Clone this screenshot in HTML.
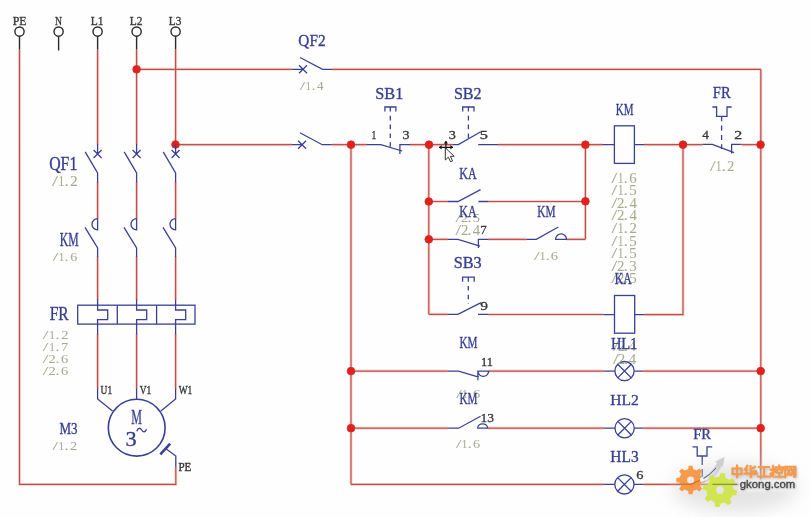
<!DOCTYPE html>
<html><head><meta charset="utf-8"><style>
html,body{margin:0;padding:0;background:#fff;}
svg{display:block;will-change:transform;filter:blur(0.3px);}
</style></head><body>
<svg width="811" height="517" viewBox="0 0 811 517">
<rect width="811" height="517" fill="#fefefe"/>
<path d="M19.5,49.5 V484.4 H175.8 V467 M97.6,49.5 L97.6,144.5 M97.6,182 L97.6,219 M97.6,256.5 L97.6,300 M97.6,334 L97.6,389 M136.6,49.5 L136.6,144.5 M136.6,182 L136.6,219 M136.6,256.5 L136.6,300 M136.6,334 L136.6,389 M175.6,49.5 L175.6,144.5 M175.6,182 L175.6,219 M175.6,256.5 L175.6,300 M175.6,334 L175.6,389 M136.6,69.3 L291.5,69.3 M332,69.3 L760.9,69.3 M175.6,144.7 L292,144.7 M331.8,144.7 L367,144.7 M351,144.7 L351,484.4 M410,144.7 L452.4,144.7 M498,144.7 L603,144.7 M644,144.7 L702.6,144.7 M741.3,144.7 L760.7,144.7 M760.8,69.3 L760.8,484.4 M428.8,144.7 L428.8,314.3 M428.8,201.5 L447.9,201.5 M488,201.5 L585.4,201.5 M585.4,144.7 L585.4,239.3 M428.8,239.3 L447.9,239.3 M488,239.3 L526.9,239.3 M566.5,239.3 L585.4,239.3 M428.8,314.3 L447.9,314.3 M488.1,314.5 L603.8,314.5 M644.3,314.6 H683 V144.7 M351,371.1 L447.7,371.1 M488.7,371.1 L603.8,371.1 M643.5,371.1 L760.7,371.1 M351,428.2 L448.1,428.2 M487.6,428.2 L603.8,428.2 M643.5,428.2 L760.7,428.2 M351,484.4 L603.8,484.4 M643.5,484.4 L760.8,484.4" fill="none" stroke="#f8d3cc" stroke-width="3.0"/>
<path d="M19.5,49.5 V484.4 H175.8 V467 M97.6,49.5 L97.6,144.5 M97.6,182 L97.6,219 M97.6,256.5 L97.6,300 M97.6,334 L97.6,389 M136.6,49.5 L136.6,144.5 M136.6,182 L136.6,219 M136.6,256.5 L136.6,300 M136.6,334 L136.6,389 M175.6,49.5 L175.6,144.5 M175.6,182 L175.6,219 M175.6,256.5 L175.6,300 M175.6,334 L175.6,389 M136.6,69.3 L291.5,69.3 M332,69.3 L760.9,69.3 M175.6,144.7 L292,144.7 M331.8,144.7 L367,144.7 M351,144.7 L351,484.4 M410,144.7 L452.4,144.7 M498,144.7 L603,144.7 M644,144.7 L702.6,144.7 M741.3,144.7 L760.7,144.7 M760.8,69.3 L760.8,484.4 M428.8,144.7 L428.8,314.3 M428.8,201.5 L447.9,201.5 M488,201.5 L585.4,201.5 M585.4,144.7 L585.4,239.3 M428.8,239.3 L447.9,239.3 M488,239.3 L526.9,239.3 M566.5,239.3 L585.4,239.3 M428.8,314.3 L447.9,314.3 M488.1,314.5 L603.8,314.5 M644.3,314.6 H683 V144.7 M351,371.1 L447.7,371.1 M488.7,371.1 L603.8,371.1 M643.5,371.1 L760.7,371.1 M351,428.2 L448.1,428.2 M487.6,428.2 L603.8,428.2 M643.5,428.2 L760.7,428.2 M351,484.4 L603.8,484.4 M643.5,484.4 L760.8,484.4" fill="none" stroke="#bb5050" stroke-width="1.2"/>
<circle cx="19.5" cy="31.6" r="4.6" fill="none" stroke="#2a2a2a" stroke-width="1.4"/>
<line x1="19.5" y1="36.2" x2="19.5" y2="49.5" stroke="#2a2a2a" stroke-width="1.4" />
<text class="t" x="12.66" y="24.5" font-family="Liberation Serif" font-size="12.68" font-weight="normal" fill="#3a3a3a" textLength="13.94" lengthAdjust="spacingAndGlyphs" stroke="#3a3a3a" stroke-width="0.35">PE</text>
<circle cx="58.6" cy="31.6" r="4.6" fill="none" stroke="#2a2a2a" stroke-width="1.4"/>
<line x1="58.6" y1="36.2" x2="58.6" y2="50.5" stroke="#2a2a2a" stroke-width="1.4" />
<text class="t" x="54.92" y="24.5" font-family="Liberation Serif" font-size="12.68" font-weight="normal" fill="#3a3a3a" textLength="7.00" lengthAdjust="spacingAndGlyphs" stroke="#3a3a3a" stroke-width="0.35">N</text>
<circle cx="97.6" cy="31.6" r="4.6" fill="none" stroke="#2a2a2a" stroke-width="1.4"/>
<line x1="97.6" y1="36.2" x2="97.6" y2="49.5" stroke="#2a2a2a" stroke-width="1.4" />
<text class="t" x="90.77" y="24.5" font-family="Liberation Serif" font-size="12.57" font-weight="normal" fill="#3a3a3a" textLength="12.83" lengthAdjust="spacingAndGlyphs" stroke="#3a3a3a" stroke-width="0.35">L1</text>
<circle cx="136.6" cy="31.6" r="4.6" fill="none" stroke="#2a2a2a" stroke-width="1.4"/>
<line x1="136.6" y1="36.2" x2="136.6" y2="49.5" stroke="#2a2a2a" stroke-width="1.4" />
<text class="t" x="129.77" y="24.5" font-family="Liberation Serif" font-size="12.54" font-weight="normal" fill="#3a3a3a" textLength="12.77" lengthAdjust="spacingAndGlyphs" stroke="#3a3a3a" stroke-width="0.35">L2</text>
<circle cx="175.6" cy="31.6" r="4.6" fill="none" stroke="#2a2a2a" stroke-width="1.4"/>
<line x1="175.6" y1="36.2" x2="175.6" y2="49.5" stroke="#2a2a2a" stroke-width="1.4" />
<text class="t" x="168.77" y="24.5" font-family="Liberation Serif" font-size="12.54" font-weight="normal" fill="#3a3a3a" textLength="12.57" lengthAdjust="spacingAndGlyphs" stroke="#3a3a3a" stroke-width="0.35">L3</text>
<circle cx="136.6" cy="69.3" r="3.85" fill="#e3201b" stroke="#cf2a25" stroke-width="0.8"/>
<circle cx="175.5" cy="144.5" r="3.85" fill="#e3201b" stroke="#cf2a25" stroke-width="0.8"/>
<path d="M97.6,144 V154 M93.6,150 L101.6,158 M101.6,150 L93.6,158 M85.19999999999999,151.9 L97.6,172.9 V182.5" fill="none" stroke="#3a4194" stroke-width="1.3" />
<path d="M136.6,144 V154 M132.6,150 L140.6,158 M140.6,150 L132.6,158 M124.19999999999999,151.9 L136.6,172.9 V182.5" fill="none" stroke="#3a4194" stroke-width="1.3" />
<path d="M175.6,144 V154 M171.6,150 L179.6,158 M179.6,150 L171.6,158 M163.2,151.9 L175.6,172.9 V182.5" fill="none" stroke="#3a4194" stroke-width="1.3" />
<path d="M97.6,218.7 V229.8 A5.6,5.55 0 0 1 97.6,218.7 M85.0,227.3 L97.6,248 V257" fill="none" stroke="#3a4194" stroke-width="1.3" />
<path d="M136.6,218.7 V229.8 A5.6,5.55 0 0 1 136.6,218.7 M124.0,227.3 L136.6,248 V257" fill="none" stroke="#3a4194" stroke-width="1.3" />
<path d="M175.6,218.7 V229.8 A5.6,5.55 0 0 1 175.6,218.7 M163.0,227.3 L175.6,248 V257" fill="none" stroke="#3a4194" stroke-width="1.3" />
<rect x="77.7" y="305.2" width="117.3" height="18.9" fill="none" stroke="#3a4194" stroke-width="1.3"/>
<line x1="117.3" y1="305.2" x2="117.3" y2="324.1" stroke="#3a4194" stroke-width="1.3" />
<line x1="156.6" y1="305.2" x2="156.6" y2="324.1" stroke="#3a4194" stroke-width="1.3" />
<path d="M97.6,299.6 V310 H107.69999999999999 V319.7 H97.6 V334.5" fill="none" stroke="#3a4194" stroke-width="1.3" />
<path d="M136.6,299.6 V310 H146.7 V319.7 H136.6 V334.5" fill="none" stroke="#3a4194" stroke-width="1.3" />
<path d="M175.6,299.6 V310 H185.7 V319.7 H175.6 V334.5" fill="none" stroke="#3a4194" stroke-width="1.3" />
<circle cx="136.7" cy="427.7" r="28.4" fill="none" stroke="#3a4194" stroke-width="1.6"/>
<path d="M97.6,388.7 V399 L112.5,411 M136.6,388.7 V399.3 M175.6,388.7 V399 L160.9,411" fill="none" stroke="#3a4194" stroke-width="1.3" />
<path d="M160.3,454.3 L170.2,443.7" fill="none" stroke="#3a4194" stroke-width="2.6" />
<path d="M166,448.8 L175.8,456 V467" fill="none" stroke="#3a4194" stroke-width="1.3" />
<text class="t" x="100.60" y="394.2" font-family="Liberation Serif" font-size="13.33" font-weight="normal" fill="#383838" textLength="11.57" lengthAdjust="spacingAndGlyphs" stroke="#383838" stroke-width="0.4">U1</text>
<text class="t" x="139.79" y="394.2" font-family="Liberation Serif" font-size="13.33" font-weight="normal" fill="#383838" textLength="11.58" lengthAdjust="spacingAndGlyphs" stroke="#383838" stroke-width="0.4">V1</text>
<text class="t" x="178.69" y="394.2" font-family="Liberation Serif" font-size="13.33" font-weight="normal" fill="#383838" textLength="13.57" lengthAdjust="spacingAndGlyphs" stroke="#383838" stroke-width="0.4">W1</text>
<text class="t" x="178.38" y="470.6" font-family="Liberation Serif" font-size="12.07" font-weight="normal" fill="#383838" textLength="12.87" lengthAdjust="spacingAndGlyphs" stroke="#383838" stroke-width="0.4">PE</text>
<text class="t" x="131.25" y="424.2" font-family="Liberation Serif" font-size="21.23" font-weight="normal" fill="#373e92" textLength="10.70" lengthAdjust="spacingAndGlyphs"  stroke="#373e92" stroke-width="0.35">M</text>
<text class="t" x="125.53" y="445.5" font-family="Liberation Serif" font-size="20.71" font-weight="normal" fill="#373e92" textLength="11.14" lengthAdjust="spacingAndGlyphs"  stroke="#373e92" stroke-width="0.35">3</text>
<path d="M136.8,431.2 C137.8,428 140,427.3 141.5,429.8 C143,432.6 145.2,432.6 146.6,429.3" fill="none" stroke="#373e92" stroke-width="1.3" />
<text class="t" x="49.15" y="169.5" font-family="Liberation Serif" font-size="18.12" font-weight="normal" fill="#373e92" textLength="28.20" lengthAdjust="spacingAndGlyphs"  stroke="#373e92" stroke-width="0.35">QF1</text>
<g class="t" font-family="Liberation Serif" font-size="14.37" fill="#a5ab90" stroke="#a5ab90" stroke-width="0.05"><text transform="translate(51.96,185.6) scale(1.5,1)">/</text><text transform="translate(58.16,185.6) scale(0.85,1)">1</text><text transform="translate(64.14,185.6) scale(1.3,1)">.</text><text transform="translate(69.94,185.6) scale(1.08,1)">2</text></g>
<text class="t" x="59.86" y="245.5" font-family="Liberation Serif" font-size="18.33" font-weight="normal" fill="#373e92" textLength="18.88" lengthAdjust="spacingAndGlyphs"  stroke="#373e92" stroke-width="0.35">KM</text>
<g class="t" font-family="Liberation Serif" font-size="13.13" fill="#a5ab90" stroke="#a5ab90" stroke-width="0.05"><text transform="translate(52.66,261) scale(1.5,1)">/</text><text transform="translate(58.75,261) scale(0.85,1)">1</text><text transform="translate(64.56,261) scale(1.3,1)">.</text><text transform="translate(70.19,261) scale(1.08,1)">6</text></g>
<text class="t" x="49.65" y="320.2" font-family="Liberation Serif" font-size="18.33" font-weight="normal" fill="#373e92" textLength="19.07" lengthAdjust="spacingAndGlyphs"  stroke="#373e92" stroke-width="0.35">FR</text>
<g class="t" font-family="Liberation Serif" font-size="13.44" fill="#a5ab90" stroke="#a5ab90" stroke-width="0.05"><text transform="translate(42.75,339.2) scale(1.5,1)">/</text><text transform="translate(49.13,339.2) scale(0.85,1)">1</text><text transform="translate(55.18,339.2) scale(1.3,1)">.</text><text transform="translate(61.27,339.2) scale(1.08,1)">2</text></g>
<g class="t" font-family="Liberation Serif" font-size="13.44" fill="#a5ab90" stroke="#a5ab90" stroke-width="0.05"><text transform="translate(42.75,351.2) scale(1.5,1)">/</text><text transform="translate(49.13,351.2) scale(0.85,1)">1</text><text transform="translate(55.18,351.2) scale(1.3,1)">.</text><text transform="translate(60.92,351.2) scale(1.08,1)">7</text></g>
<g class="t" font-family="Liberation Serif" font-size="13.44" fill="#a5ab90" stroke="#a5ab90" stroke-width="0.05"><text transform="translate(42.75,363.2) scale(1.5,1)">/</text><text transform="translate(48.59,363.2) scale(1.08,1)">2</text><text transform="translate(55.18,363.2) scale(1.3,1)">.</text><text transform="translate(61.09,363.2) scale(1.08,1)">6</text></g>
<g class="t" font-family="Liberation Serif" font-size="13.44" fill="#a5ab90" stroke="#a5ab90" stroke-width="0.05"><text transform="translate(42.75,375.2) scale(1.5,1)">/</text><text transform="translate(48.59,375.2) scale(1.08,1)">2</text><text transform="translate(55.18,375.2) scale(1.3,1)">.</text><text transform="translate(61.09,375.2) scale(1.08,1)">6</text></g>
<text class="t" x="59.52" y="434.2" font-family="Liberation Serif" font-size="17.22" font-weight="normal" fill="#373e92" textLength="18.08" lengthAdjust="spacingAndGlyphs"  stroke="#373e92" stroke-width="0.35">M3</text>
<g class="t" font-family="Liberation Serif" font-size="13.28" fill="#a5ab90" stroke="#a5ab90" stroke-width="0.05"><text transform="translate(52.48,450) scale(1.5,1)">/</text><text transform="translate(58.50,450) scale(0.85,1)">1</text><text transform="translate(64.27,450) scale(1.3,1)">.</text><text transform="translate(69.97,450) scale(1.08,1)">2</text></g>
<path d="M291.5,69.3 H303 M299,65.3 L307,73.3 M307,65.3 L299,73.3 M300,57.5 L322.6,69.3 H332" fill="none" stroke="#3a4194" stroke-width="1.3" />
<text class="t" x="298.37" y="46.3" font-family="Liberation Serif" font-size="16.46" font-weight="normal" fill="#373e92" textLength="27.17" lengthAdjust="spacingAndGlyphs"  stroke="#373e92" stroke-width="0.35">QF2</text>
<g class="t" font-family="Liberation Serif" font-size="12.03" fill="#a5ab90" stroke="#a5ab90" stroke-width="0.05"><text transform="translate(299.96,90.2) scale(1.5,1)">/</text><text transform="translate(305.86,90.2) scale(0.85,1)">1</text><text transform="translate(311.44,90.2) scale(1.3,1)">.</text><text transform="translate(317.01,90.2) scale(1.08,1)">4</text></g>
<path d="M292,144.7 H302.1 M298.1,140.7 L306.1,148.7 M306.1,140.7 L298.1,148.7 M299.9,132.8 L322.3,144.7 H331.8" fill="none" stroke="#3a4194" stroke-width="1.3" />
<circle cx="351" cy="144.7" r="3.85" fill="#e3201b" stroke="#cf2a25" stroke-width="0.8"/>
<path d="M367,144.6 H380.8 L402.2,151 M399.9,153.9 V144.6 H410" fill="none" stroke="#3a4194" stroke-width="1.3" />
<path d="M384.9,111.6 V107 H395.9 V111.6" fill="none" stroke="#3a4194" stroke-width="1.3" />
<path d="M390.3,107 V148" fill="none" stroke="#3a4194" stroke-width="1.3" stroke-dasharray="4.6,4.2"/>
<text class="t" x="375.31" y="98.6" font-family="Liberation Serif" font-size="17.52" font-weight="normal" fill="#373e92" textLength="27.96" lengthAdjust="spacingAndGlyphs"  stroke="#373e92" stroke-width="0.35">SB1</text>
<text class="t" x="371.55" y="138.5" font-family="Liberation Serif" font-size="11.82" font-weight="normal" fill="#383838" textLength="4.83" lengthAdjust="spacingAndGlyphs"  stroke="#383838" stroke-width="0.3">1</text>
<text class="t" x="402.63" y="138.5" font-family="Liberation Serif" font-size="11.78" font-weight="normal" fill="#383838" textLength="7.02" lengthAdjust="spacingAndGlyphs"  stroke="#383838" stroke-width="0.3">3</text>
<circle cx="429" cy="144.7" r="3.85" fill="#e3201b" stroke="#cf2a25" stroke-width="0.8"/>
<path d="M452.4,144.6 H458.4 L480.8,131.8 M478.2,144.6 H498" fill="none" stroke="#3a4194" stroke-width="1.3" />
<path d="M462.7,111.6 V107 H474 V111.6" fill="none" stroke="#3a4194" stroke-width="1.3" />
<path d="M468.4,107 V138" fill="none" stroke="#3a4194" stroke-width="1.3" stroke-dasharray="4.6,4.2"/>
<text class="t" x="453.92" y="98.6" font-family="Liberation Serif" font-size="17.52" font-weight="normal" fill="#373e92" textLength="27.77" lengthAdjust="spacingAndGlyphs"  stroke="#373e92" stroke-width="0.35">SB2</text>
<text class="t" x="448.72" y="138.7" font-family="Liberation Serif" font-size="11.78" font-weight="normal" fill="#383838" textLength="7.14" lengthAdjust="spacingAndGlyphs"  stroke="#383838" stroke-width="0.3">3</text>
<text class="t" x="479.85" y="138.7" font-family="Liberation Serif" font-size="11.91" font-weight="normal" fill="#383838" textLength="8.19" lengthAdjust="spacingAndGlyphs"  stroke="#383838" stroke-width="0.3">5</text>
<circle cx="585.4" cy="144.7" r="3.85" fill="#e3201b" stroke="#cf2a25" stroke-width="0.8"/>
<rect x="614.4" y="125.8" width="20" height="37.6" fill="none" stroke="#3a4194" stroke-width="1.3"/>
<path d="M603,144.6 H614.4 M634.4,144.6 H644" fill="none" stroke="#3a4194" stroke-width="1.3" />
<text class="t" x="615.78" y="114.9" font-family="Liberation Serif" font-size="16.80" font-weight="normal" fill="#373e92" textLength="17.74" lengthAdjust="spacingAndGlyphs"  stroke="#373e92" stroke-width="0.35">KM</text>
<g class="t" font-family="Liberation Serif" font-size="13.75" fill="#a5ab90" stroke="#a5ab90" stroke-width="0.05"><text transform="translate(611.41,182.6) scale(1.5,1)">/</text><text transform="translate(617.63,182.6) scale(0.85,1)">1</text><text transform="translate(623.60,182.6) scale(1.3,1)">.</text><text transform="translate(629.31,182.6) scale(1.08,1)">6</text></g>
<g class="t" font-family="Liberation Serif" font-size="13.75" fill="#a5ab90" stroke="#a5ab90" stroke-width="0.05"><text transform="translate(611.41,195.18) scale(1.5,1)">/</text><text transform="translate(617.63,195.18) scale(0.85,1)">1</text><text transform="translate(623.60,195.18) scale(1.3,1)">.</text><text transform="translate(629.27,195.18) scale(1.08,1)">5</text></g>
<g class="t" font-family="Liberation Serif" font-size="13.75" fill="#a5ab90" stroke="#a5ab90" stroke-width="0.05"><text transform="translate(611.41,207.76) scale(1.5,1)">/</text><text transform="translate(617.09,207.76) scale(1.08,1)">2</text><text transform="translate(623.60,207.76) scale(1.3,1)">.</text><text transform="translate(629.38,207.76) scale(1.08,1)">4</text></g>
<g class="t" font-family="Liberation Serif" font-size="13.75" fill="#a5ab90" stroke="#a5ab90" stroke-width="0.05"><text transform="translate(611.41,220.34) scale(1.5,1)">/</text><text transform="translate(617.09,220.34) scale(1.08,1)">2</text><text transform="translate(623.60,220.34) scale(1.3,1)">.</text><text transform="translate(629.38,220.34) scale(1.08,1)">4</text></g>
<g class="t" font-family="Liberation Serif" font-size="13.75" fill="#a5ab90" stroke="#a5ab90" stroke-width="0.05"><text transform="translate(611.41,232.92) scale(1.5,1)">/</text><text transform="translate(617.63,232.92) scale(0.85,1)">1</text><text transform="translate(623.60,232.92) scale(1.3,1)">.</text><text transform="translate(629.49,232.92) scale(1.08,1)">2</text></g>
<g class="t" font-family="Liberation Serif" font-size="13.75" fill="#a5ab90" stroke="#a5ab90" stroke-width="0.05"><text transform="translate(611.41,245.5) scale(1.5,1)">/</text><text transform="translate(617.63,245.5) scale(0.85,1)">1</text><text transform="translate(623.60,245.5) scale(1.3,1)">.</text><text transform="translate(629.27,245.5) scale(1.08,1)">5</text></g>
<g class="t" font-family="Liberation Serif" font-size="13.75" fill="#a5ab90" stroke="#a5ab90" stroke-width="0.05"><text transform="translate(611.41,258.08) scale(1.5,1)">/</text><text transform="translate(617.63,258.08) scale(0.85,1)">1</text><text transform="translate(623.60,258.08) scale(1.3,1)">.</text><text transform="translate(629.27,258.08) scale(1.08,1)">5</text></g>
<g class="t" font-family="Liberation Serif" font-size="13.75" fill="#a5ab90" stroke="#a5ab90" stroke-width="0.05"><text transform="translate(611.41,270.65999999999997) scale(1.5,1)">/</text><text transform="translate(617.09,270.65999999999997) scale(1.08,1)">2</text><text transform="translate(623.60,270.65999999999997) scale(1.3,1)">.</text><text transform="translate(629.34,270.65999999999997) scale(1.08,1)">3</text></g>
<g class="t" font-family="Liberation Serif" font-size="13.75" fill="#a5ab90" stroke="#a5ab90" stroke-width="0.05"><text transform="translate(611.41,283.24) scale(1.5,1)">/</text><text transform="translate(617.09,283.24) scale(1.08,1)">2</text><text transform="translate(623.60,283.24) scale(1.3,1)">.</text><text transform="translate(629.27,283.24) scale(1.08,1)">5</text></g>
<circle cx="683" cy="144.7" r="3.85" fill="#e3201b" stroke="#cf2a25" stroke-width="0.8"/>
<path d="M702.6,144.4 H712.3 L734.1,152.6 M731.6,153.5 V144.4 H741.3" fill="none" stroke="#3a4194" stroke-width="1.3" />
<path d="M712.4,107 H716.6 V116.3 H727 V107 H731.7" fill="none" stroke="#3a4194" stroke-width="1.3" />
<path d="M721.6,116.3 V149" fill="none" stroke="#3a4194" stroke-width="1.3" stroke-dasharray="5,4.3"/>
<text class="t" x="712.78" y="98.4" font-family="Liberation Serif" font-size="16.49" font-weight="normal" fill="#373e92" textLength="17.84" lengthAdjust="spacingAndGlyphs"  stroke="#373e92" stroke-width="0.35">FR</text>
<text class="t" x="702.34" y="139" font-family="Liberation Serif" font-size="11.70" font-weight="normal" fill="#383838" textLength="6.67" lengthAdjust="spacingAndGlyphs"  stroke="#383838" stroke-width="0.3">4</text>
<text class="t" x="734.20" y="139" font-family="Liberation Serif" font-size="11.63" font-weight="normal" fill="#383838" textLength="7.98" lengthAdjust="spacingAndGlyphs"  stroke="#383838" stroke-width="0.3">2</text>
<g class="t" font-family="Liberation Serif" font-size="13.59" fill="#a5ab90" stroke="#a5ab90" stroke-width="0.05"><text transform="translate(710.01,171) scale(1.5,1)">/</text><text transform="translate(715.84,171) scale(0.85,1)">1</text><text transform="translate(721.47,171) scale(1.3,1)">.</text><text transform="translate(726.93,171) scale(1.08,1)">2</text></g>
<circle cx="760.6" cy="144.7" r="3.85" fill="#e3201b" stroke="#cf2a25" stroke-width="0.8"/>
<circle cx="428.8" cy="201.5" r="3.85" fill="#e3201b" stroke="#cf2a25" stroke-width="0.8"/>
<path d="M447.9,201.5 H458 L480.6,189.6 M478.4,201.5 H488" fill="none" stroke="#3a4194" stroke-width="1.3" />
<text class="t" x="459.35" y="178.8" font-family="Liberation Serif" font-size="16.36" font-weight="normal" fill="#373e92" textLength="17.33" lengthAdjust="spacingAndGlyphs"  stroke="#373e92" stroke-width="0.35">KA</text>
<circle cx="585.4" cy="201.3" r="3.85" fill="#e3201b" stroke="#cf2a25" stroke-width="0.8"/>
<circle cx="428.8" cy="239.3" r="3.85" fill="#e3201b" stroke="#cf2a25" stroke-width="0.8"/>
<path d="M447.9,239.3 H458 L480.1,246.2 M478.4,248 V239.3 H488" fill="none" stroke="#3a4194" stroke-width="1.3" />
<g class="t" font-family="Liberation Serif" font-size="13.44" fill="#a5ab90" stroke="#a5ab90" stroke-width="0.05"><text transform="translate(455.54,221.8) scale(1.5,1)">/</text><text transform="translate(461.00,221.8) scale(1.08,1)">2</text><text transform="translate(467.29,221.8) scale(1.3,1)">.</text><text transform="translate(472.73,221.8) scale(1.08,1)">5</text></g>
<text class="t" x="459.35" y="216.6" font-family="Liberation Serif" font-size="16.36" font-weight="normal" fill="#373e92" textLength="17.33" lengthAdjust="spacingAndGlyphs"  stroke="#373e92" stroke-width="0.35">KA</text>
<g class="t" font-family="Liberation Serif" font-size="13.75" fill="#a5ab90" stroke="#a5ab90" stroke-width="0.05"><text transform="translate(455.47,234.6) scale(1.5,1)">/</text><text transform="translate(460.92,234.6) scale(1.08,1)">2</text><text transform="translate(467.24,234.6) scale(1.3,1)">.</text><text transform="translate(472.75,234.6) scale(1.08,1)">4</text></g>
<text class="t" x="480.15" y="234.4" font-family="Liberation Serif" font-size="13.13" font-weight="normal" fill="#383838" textLength="6.42" lengthAdjust="spacingAndGlyphs"  stroke="#383838" stroke-width="0.3">7</text>
<path d="M526.9,239.3 H536.3 L558.3,227 M555.6,239.3 A5.45,5.4 0 0 1 566.5,239.3 Z" fill="none" stroke="#3a4194" stroke-width="1.3" />
<text class="t" x="537.27" y="216.8" font-family="Liberation Serif" font-size="16.49" font-weight="normal" fill="#373e92" textLength="18.26" lengthAdjust="spacingAndGlyphs"  stroke="#373e92" stroke-width="0.35">KM</text>
<g class="t" font-family="Liberation Serif" font-size="13.44" fill="#a5ab90" stroke="#a5ab90" stroke-width="0.05"><text transform="translate(533.88,259.6) scale(1.5,1)">/</text><text transform="translate(539.78,259.6) scale(0.85,1)">1</text><text transform="translate(545.46,259.6) scale(1.3,1)">.</text><text transform="translate(550.84,259.6) scale(1.08,1)">6</text></g>
<path d="M447.9,314.3 H457.9 L481.1,302.6 M478,314.3 H488.1" fill="none" stroke="#3a4194" stroke-width="1.3" />
<path d="M462.6,281.7 V277.1 H474.2 V281.7" fill="none" stroke="#3a4194" stroke-width="1.3" />
<path d="M468.3,277.1 V304" fill="none" stroke="#3a4194" stroke-width="1.3" stroke-dasharray="4.6,4.2"/>
<text class="t" x="453.71" y="268.3" font-family="Liberation Serif" font-size="16.76" font-weight="normal" fill="#373e92" textLength="28.02" lengthAdjust="spacingAndGlyphs"  stroke="#373e92" stroke-width="0.35">SB3</text>
<text class="t" x="480.20" y="309.6" font-family="Liberation Serif" font-size="12.84" font-weight="normal" fill="#383838" textLength="7.73" lengthAdjust="spacingAndGlyphs"  stroke="#383838" stroke-width="0.3">9</text>
<rect x="614.5" y="295.5" width="20.2" height="37.7" fill="none" stroke="#3a4194" stroke-width="1.3"/>
<path d="M603.8,314.6 H614.5 M634.7,314.6 H644.3" fill="none" stroke="#3a4194" stroke-width="1.3" />
<text class="t" x="614.76" y="284.3" font-family="Liberation Serif" font-size="16.66" font-weight="normal" fill="#373e92" textLength="16.82" lengthAdjust="spacingAndGlyphs"  stroke="#373e92" stroke-width="0.35">KA</text>
<circle cx="351" cy="371.1" r="3.85" fill="#e3201b" stroke="#cf2a25" stroke-width="0.8"/>
<path d="M447.7,371.1 H458.6 L478.7,377.2 M477.9,380.3 V371.1 M477.9,371.1 A5.4,5.3 0 0 0 488.7,371.1 Z" fill="none" stroke="#3a4194" stroke-width="1.3" />
<text class="t" x="459.48" y="348.2" font-family="Liberation Serif" font-size="16.80" font-weight="normal" fill="#373e92" textLength="17.95" lengthAdjust="spacingAndGlyphs"  stroke="#373e92" stroke-width="0.35">KM</text>
<text class="t" x="481.05" y="365.6" font-family="Liberation Serif" font-size="11.66" font-weight="normal" fill="#383838" textLength="11.97" lengthAdjust="spacingAndGlyphs"  stroke="#383838" stroke-width="0.3">11</text>
<circle cx="624.5" cy="371.1" r="9.6" fill="none" stroke="#3a4194" stroke-width="1.3"/>
<path d="M617.71184,364.31184 L631.28816,377.88816 M631.28816,364.31184 L617.71184,377.88816 M603.8,371.1 H614.9 M634.1,371.1 H643.5" fill="none" stroke="#3a4194" stroke-width="1.3" />
<circle cx="760.7" cy="371.1" r="3.85" fill="#e3201b" stroke="#cf2a25" stroke-width="0.8"/>
<g class="t" font-family="Liberation Serif" font-size="13.59" fill="#a5ab90" stroke="#a5ab90" stroke-width="0.05"><text transform="translate(612.99,351.2) scale(1.5,1)">/</text><text transform="translate(617.90,351.2) scale(1.08,1)">2</text><text transform="translate(623.78,351.2) scale(1.3,1)">.</text><text transform="translate(628.69,351.2) scale(1.08,1)">4</text></g>
<g class="t" font-family="Liberation Serif" font-size="13.75" fill="#a5ab90" stroke="#a5ab90" stroke-width="0.05"><text transform="translate(612.96,364) scale(1.5,1)">/</text><text transform="translate(617.86,364) scale(1.08,1)">2</text><text transform="translate(623.75,364) scale(1.3,1)">.</text><text transform="translate(628.65,364) scale(1.08,1)">4</text></g>
<text class="t" x="610.88" y="348.6" font-family="Liberation Serif" font-size="17.27" font-weight="normal" fill="#373e92" textLength="26.48" lengthAdjust="spacingAndGlyphs"  stroke="#373e92" stroke-width="0.35">HL1</text>
<g class="t" font-family="Liberation Serif" font-size="13.44" fill="#a5ab90" stroke="#a5ab90" stroke-width="0.05"><text transform="translate(456.14,398.2) scale(1.5,1)">/</text><text transform="translate(461.97,398.2) scale(0.85,1)">1</text><text transform="translate(467.60,398.2) scale(1.3,1)">.</text><text transform="translate(472.89,398.2) scale(1.08,1)">6</text></g>
<circle cx="351" cy="428.2" r="3.85" fill="#e3201b" stroke="#cf2a25" stroke-width="0.8"/>
<path d="M448.1,428.2 H458.6 L480.6,416.3 M477.7,428.2 A4.95,4.4 0 0 1 487.6,428.2 Z" fill="none" stroke="#3a4194" stroke-width="1.3" />
<text class="t" x="459.48" y="403.9" font-family="Liberation Serif" font-size="16.80" font-weight="normal" fill="#373e92" textLength="17.95" lengthAdjust="spacingAndGlyphs"  stroke="#373e92" stroke-width="0.35">KM</text>
<text class="t" x="480.61" y="422.1" font-family="Liberation Serif" font-size="12.69" font-weight="normal" fill="#383838" textLength="13.52" lengthAdjust="spacingAndGlyphs"  stroke="#383838" stroke-width="0.3">13</text>
<g class="t" font-family="Liberation Serif" font-size="13.12" fill="#a5ab90" stroke="#a5ab90" stroke-width="0.05"><text transform="translate(455.89,448.4) scale(1.5,1)">/</text><text transform="translate(461.86,448.4) scale(0.85,1)">1</text><text transform="translate(467.58,448.4) scale(1.3,1)">.</text><text transform="translate(473.07,448.4) scale(1.08,1)">6</text></g>
<circle cx="624.6" cy="428.2" r="9.6" fill="none" stroke="#3a4194" stroke-width="1.3"/>
<path d="M617.8118400000001,421.41184 L631.38816,434.98816 M631.38816,421.41184 L617.8118400000001,434.98816 M603.8,428.2 H615.0 M634.2,428.2 H643.5" fill="none" stroke="#3a4194" stroke-width="1.3" />
<circle cx="760.7" cy="428.2" r="3.85" fill="#e3201b" stroke="#cf2a25" stroke-width="0.8"/>
<text class="t" x="610.35" y="405.2" font-family="Liberation Serif" font-size="15.25" font-weight="normal" fill="#373e92" textLength="28.51" lengthAdjust="spacingAndGlyphs"  stroke="#373e92" stroke-width="0.35">HL2</text>
<circle cx="624.4" cy="484.4" r="9.6" fill="none" stroke="#3a4194" stroke-width="1.3"/>
<path d="M617.61184,477.61184 L631.1881599999999,491.18816 M631.1881599999999,477.61184 L617.61184,491.18816 M603.8,484.4 H614.8 M634.0,484.4 H643.5" fill="none" stroke="#3a4194" stroke-width="1.3" />
<text class="t" x="610.36" y="462.4" font-family="Liberation Serif" font-size="15.71" font-weight="normal" fill="#373e92" textLength="28.25" lengthAdjust="spacingAndGlyphs"  stroke="#373e92" stroke-width="0.35">HL3</text>
<text class="t" x="636.39" y="479.3" font-family="Liberation Serif" font-size="12.69" font-weight="normal" fill="#383838" textLength="7.14" lengthAdjust="spacingAndGlyphs"  stroke="#383838" stroke-width="0.3">6</text>
<path d="M692.5,446.9 H697.2 V456 H707 V446.9 H712.2" fill="none" stroke="#3a4194" stroke-width="1.3" />
<path d="M702.2,456 V478" fill="none" stroke="#3a4194" stroke-width="1.3" stroke-dasharray="9,4"/>
<text class="t" x="693.28" y="438.6" font-family="Liberation Serif" font-size="14.81" font-weight="normal" fill="#373e92" textLength="17.84" lengthAdjust="spacingAndGlyphs"  stroke="#373e92" stroke-width="0.35">FR</text>
<g>
<path d="M439,147.3 H453 M445.9,141 V153" stroke="#111" stroke-width="1.2" fill="none"/>
<path d="M439,147.3 l2.6,-2.2 v4.4 z M453,147.3 l-2.6,-2.2 v4.4 z M445.9,141 l-2.2,2.6 h4.4 z" fill="#111"/>
<path d="M445.3,147.8 V160 L448.3,157.2 L450.6,161.8 L452.6,160.9 L450.4,156.4 L454.2,156.3 Z" fill="#fff" stroke="#222" stroke-width="0.9" stroke-linejoin="round"/>
</g>
<defs><filter id="bl" x="-50%" y="-50%" width="200%" height="200%"><feGaussianBlur stdDeviation="9"/></filter><filter id="bl2" x="-20%" y="-50%" width="140%" height="200%"><feGaussianBlur stdDeviation="0.9"/></filter><linearGradient id="ag" x1="0" y1="1" x2="1" y2="0"><stop offset="0" stop-color="#f4f4f4"/><stop offset="1" stop-color="#c9c9c9"/></linearGradient></defs>
<ellipse cx="735" cy="488" rx="62" ry="24" fill="#cfcfcf" opacity="0.55" filter="url(#bl)"/>
<path d="M688.16,469.07 L688.68,465.73 L692.52,465.73 L693.04,469.07 L696.60,470.54 L699.34,468.55 L702.05,471.26 L700.06,474.00 L701.53,477.56 L704.87,478.08 L704.87,481.92 L701.53,482.44 L700.06,486.00 L702.05,488.74 L699.34,491.45 L696.60,489.46 L693.04,490.93 L692.52,494.27 L688.68,494.27 L688.16,490.93 L684.60,489.46 L681.86,491.45 L679.15,488.74 L681.14,486.00 L679.67,482.44 L676.33,481.92 L676.33,478.08 L679.67,477.56 L681.14,474.00 L679.15,471.26 L681.86,468.55 L684.60,470.54 Z M694.1,480 A3.5,3.5 0 1 0 687.1,480 A3.5,3.5 0 1 0 694.1,480 Z" fill="#f5963f" fill-rule="evenodd" opacity="0.95"/>
<path d="M676,484.3 H691 L704,478.5" stroke="#c0602a" stroke-width="1.1" fill="none" opacity="0.8"/>
<path d="M702,479.5 C710,477 715,472 719.5,463.5" stroke="#b8b8b8" stroke-width="4.6" fill="none" stroke-linecap="round" opacity="0.5" transform="translate(0.8,1)"/>
<path d="M702,479.5 C710,477 715,472 719.5,463.5" stroke="url(#ag)" stroke-width="4.4" fill="none" stroke-linecap="round"/>
<path d="M715.2,461.8 L724.6,456.8 L722.8,467 Z" fill="#cfcfcf"/>
<path d="M703.5,478.6 C709,475.5 712,472.5 716,468" stroke="#5a64a8" stroke-width="1.1" fill="none" stroke-dasharray="none"/>
<path d="M719.38,476.41 L720.71,472.81 L725.22,473.61 L725.23,477.44 L729.17,479.96 L732.65,478.35 L735.28,482.10 L732.57,484.82 L733.59,489.38 L737.19,490.71 L736.39,495.22 L732.56,495.23 L730.04,499.17 L731.65,502.65 L727.90,505.28 L725.18,502.57 L720.62,503.59 L719.29,507.19 L714.78,506.39 L714.77,502.56 L710.83,500.04 L707.35,501.65 L704.72,497.90 L707.43,495.18 L706.41,490.62 L702.81,489.29 L703.61,484.78 L707.44,484.77 L709.96,480.83 L708.35,477.35 L712.10,474.72 L714.82,477.43 Z M723.9,490 A3.9,3.9 0 1 0 716.1,490 A3.9,3.9 0 1 0 723.9,490 Z" fill="#cfe547" fill-rule="evenodd" opacity="0.95"/>
<path d="M712.5,484.3 H737" stroke="#6d7a30" stroke-width="1.1" fill="none" opacity="0.8"/>
<path d="M732.5,468.5 H741.5 V474 H732.5 Z M737,465.6 V477.2 M747.3,465.8 L744.8,469.6 M746.6,468.2 V472.2 M750.5,466 V470.3 Q750.5,471.4 752,471.4 H756 M755,466.8 L751,469.2 M744.5,473.6 H757.2 M750.8,472 V477.3 M759,467 H769 M764,467 V476 M758,476.5 H770.2 M770.5,469.6 H775 M773,465.8 V476.3 L771.4,475.4 M770.5,473.8 L775,471.6 M779.2,465.6 V467.4 M775.6,469.2 V467.4 H783 V469.2 M778.1,469.6 L776.3,471.4 M780.4,469.6 L782.2,471.4 M776.6,472.8 H782 M779.3,472.8 V476.6 M775.6,476.7 H783.4 M785.2,477.3 V466.7 H795.3 V476 Q795.3,477 794,477 M787.4,469 L790.2,474.8 M790.2,469 L787.4,474.8 M791.3,469 L794,474.8 M794,469 L791.3,474.8" stroke="#999" stroke-width="2.2" fill="none" opacity="0.55" transform="translate(0.8,1.2)" filter="url(#bl2)"/>
<path d="M732.5,468.5 H741.5 V474 H732.5 Z M737,465.6 V477.2 M747.3,465.8 L744.8,469.6 M746.6,468.2 V472.2 M750.5,466 V470.3 Q750.5,471.4 752,471.4 H756 M755,466.8 L751,469.2 M744.5,473.6 H757.2 M750.8,472 V477.3 M759,467 H769 M764,467 V476 M758,476.5 H770.2 M770.5,469.6 H775 M773,465.8 V476.3 L771.4,475.4 M770.5,473.8 L775,471.6 M779.2,465.6 V467.4 M775.6,469.2 V467.4 H783 V469.2 M778.1,469.6 L776.3,471.4 M780.4,469.6 L782.2,471.4 M776.6,472.8 H782 M779.3,472.8 V476.6 M775.6,476.7 H783.4 M785.2,477.3 V466.7 H795.3 V476 Q795.3,477 794,477 M787.4,469 L790.2,474.8 M790.2,469 L787.4,474.8 M791.3,469 L794,474.8 M794,469 L791.3,474.8" stroke="#f59a4c" stroke-width="2.1" fill="none" stroke-linecap="square"/>
<rect x="738.5" y="479.5" width="58" height="12" fill="#f2f2f2" opacity="0.9" filter="url(#bl2)"/>
<text x="740.6" y="489" font-family="Liberation Sans" font-size="10.2" fill="#888" opacity="0.6" textLength="55.5" lengthAdjust="spacingAndGlyphs" filter="url(#bl2)">gkong.com</text>
<text x="739.8" y="487.8" font-family="Liberation Sans" font-size="10.2" fill="#444" stroke="#444" stroke-width="0.3" textLength="55.5" lengthAdjust="spacingAndGlyphs">gkong.com</text>
</svg>
</body></html>
